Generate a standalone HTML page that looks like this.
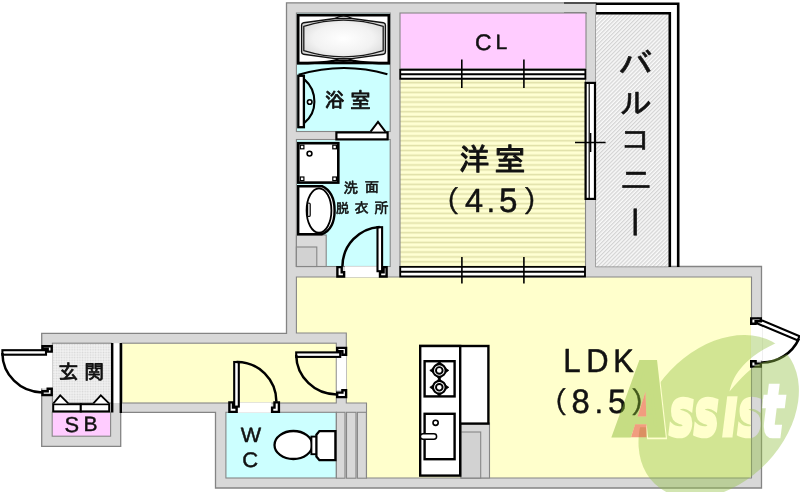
<!DOCTYPE html>
<html lang="ja">
<head>
<meta charset="utf-8">
<title>間取り図</title>
<style>
html,body{margin:0;padding:0;background:#fff;}
body{width:800px;height:492px;overflow:hidden;}
svg{display:block;}
.k{stroke:#000;fill:none;}
.w{fill:#fff;stroke:#000;}
</style>
</head>
<body>
<svg width="800" height="492" viewBox="0 0 800 492">
<defs>
  <pattern id="hatch" width="2.8" height="2.8" patternUnits="userSpaceOnUse" patternTransform="rotate(-45)">
    <rect width="2.8" height="2.8" fill="#fafafa"/>
    <rect width="2.8" height="1.3" fill="#d4d4d4"/>
  </pattern>
  <pattern id="stripe" x="0" y="80.2" width="10" height="4.84" patternUnits="userSpaceOnUse">
    <rect width="10" height="4.84" fill="#ffffd3"/>
    <rect width="10" height="1.6" y="1.7" fill="#e0e0a8"/>
  </pattern>
  <pattern id="tile" x="52.4" y="343.2" width="2.62" height="2.62" patternUnits="userSpaceOnUse">
    <rect width="2.62" height="2.62" fill="#f8f8f8"/>
    <rect x="0.5" y="0.5" width="1.7" height="1.7" fill="#d6d6d6"/>
  </pattern>
  <radialGradient id="tub" cx="50%" cy="50%" r="60%">
    <stop offset="0" stop-color="#ffffff"/>
    <stop offset="0.6" stop-color="#f2f2f2"/>
    <stop offset="1" stop-color="#d8d8d8"/>
  </radialGradient>
</defs>
<rect width="800" height="492" fill="#fff"/>

<!-- ===== walls (outer building shape) ===== -->
<path d="M286.5,2.8 H596 V266.5 H761.5 V488 H215.5 V412.3 H120.7 V446.3 H41.7 V333.4 H286.5 Z" fill="#d8d8d8" stroke="#848484" stroke-width="1.3"/>

<!-- ===== balcony ===== -->
<rect x="596" y="13" width="74" height="253.5" fill="url(#hatch)"/>
<path class="k" d="M596,3.8 H678.2 V267" stroke-width="2.6"/>
<path class="k" d="M596,13.2 H669.8 V267" stroke-width="2.6"/>
<path d="M564,13.3 H586.4 M564,3 H596" stroke="#333" stroke-width="1.4" fill="none"/>

<!-- ===== rooms ===== -->
<g stroke="#868686" stroke-width="1.1">
  <rect x="296.4" y="13" width="93.8" height="118.5" fill="#ccffff"/>
  <rect x="400" y="13" width="186" height="56" fill="#ffccff"/>
  <rect x="400" y="79" width="185.5" height="187.5" fill="url(#stripe)"/>
  <rect x="296.4" y="139.5" width="93.8" height="127" fill="#ccffff"/>
  <path d="M296.4,277 H751.5 V478 H366.5 V403 H346.3 V333 H296.4 Z" fill="#ffffcc"/>
  <rect x="122" y="343.2" width="214.3" height="59.8" fill="#ffffcc"/>
  <rect x="52.4" y="343.2" width="59" height="59.8" fill="url(#tile)"/>
  <rect x="52.2" y="412.2" width="58.4" height="24" fill="#ffccff"/>
  <rect x="225.9" y="412.3" width="110.4" height="65.7" fill="#ccffff"/>
  <rect x="336.4" y="412.3" width="8.6" height="65.9" fill="#d8d8d8"/>
  <rect x="346.5" y="412.3" width="9.5" height="65.9" fill="#d8d8d8"/>
  <rect x="357.4" y="412.3" width="9" height="65.9" fill="#d8d8d8"/>
  <rect x="296.4" y="235" width="29.8" height="31.5" fill="#dadada"/>
  <rect x="296.4" y="247" width="20.4" height="19.5" fill="#d2d2d2"/>
  <rect x="461" y="423" width="28.5" height="55" fill="#d8d8d8"/>
  <rect x="461" y="432" width="19.7" height="46" fill="#d2d2d2"/>
</g>

<!-- ===== sliding doors / window of western room ===== -->
<g>
  <rect x="399.4" y="68.8" width="186.8" height="10.8" fill="#fff"/>
  <path class="k" stroke-width="1.9" d="M399.4,69.8 H586 M399.4,74.3 H586 M399.4,78.8 H586 M400.2,68.9 V79.7 M585.4,68.9 V79.7"/>
  <path class="k" stroke-width="1.6" d="M461.8,59.5 V88 M523.9,59.5 V88"/>
  <rect x="399.4" y="266" width="186.4" height="11.4" fill="#fff"/>
  <path class="k" stroke-width="1.9" d="M399.4,266.9 H585.8 M399.4,271.7 H585.8 M399.4,276.5 H585.8 M400.2,266 V277.4 M585,266 V277.4"/>
  <path class="k" stroke-width="1.6" d="M461.9,257 V283.5 M523.9,257 V283.5"/>
  <rect class="w" x="585.6" y="82.9" width="9.4" height="116" stroke-width="2.2"/>
  <path class="k" stroke-width="1.2" d="M589.2,83 V199"/>
  <path class="k" stroke-width="1.5" d="M575,142.6 H605.6 M590.6,133 V152"/>
</g>

<!-- ===== bath fixtures ===== -->
<g>
  <rect x="298.2" y="15.2" width="90.6" height="47.8" fill="#fff" stroke="#000" stroke-width="2.6"/>
  <path d="M301.6,25 Q301.6,23 303.6,22.7 L335,18.5 H352 L383.4,22.7 Q385.4,23 385.4,25 V52 Q385.4,54 383.4,54.3 L352,58.6 H335 L303.6,54.3 Q301.6,54 301.6,52 Z" fill="url(#tub)" stroke="#111" stroke-width="1.4"/>
  <path d="M335,18.5 Q343.5,13.2 352,18.5 M335,58.6 Q343.5,63.9 352,58.6" fill="none" stroke="#111" stroke-width="1.4"/>
  <path d="M303.8,26.4 Q343.5,14 383.2,26.4 V50.6 Q343.5,63 303.8,50.6 Z" fill="none" stroke="#1a1a1a" stroke-width="1.3"/>
  <path class="k" stroke-width="2.2" d="M297,63.4 Q320,63.4 335,60.6 H352 Q367,63.4 390,63.4"/>
  <path class="k" stroke-width="2.2" d="M298.6,74.8 Q343,61.5 387.4,74.2"/>
  <rect class="w" x="298.3" y="75.8" width="5.6" height="51.4" stroke-width="2.3"/>
  <path class="k" stroke-width="2.1" d="M304.6,79.6 Q314.4,88 314.4,101.8 Q314.4,114.6 304.6,122.6"/>
  <circle class="w" cx="309.7" cy="102" r="2.3" stroke-width="1.6"/>
  <rect class="w" x="336.4" y="132.4" width="51.2" height="7" stroke-width="2.2"/>
  <path class="w" stroke-width="2" d="M370.6,131.6 L378,122 L385.4,131.6"/>
</g>

<!-- ===== washroom fixtures ===== -->
<g>
  <rect class="w" x="298.3" y="143.2" width="40" height="39.4" stroke-width="2.6"/>
  <rect class="w" x="300.3" y="145.2" width="3.6" height="3.6" stroke-width="1.2"/>
  <rect class="w" x="332.8" y="145.2" width="3.6" height="3.6" stroke-width="1.2"/>
  <rect class="w" x="300.3" y="177" width="3.6" height="3.6" stroke-width="1.2"/>
  <rect class="w" x="332.8" y="177" width="3.6" height="3.6" stroke-width="1.2"/>
  <circle class="w" cx="309.5" cy="153.6" r="2.4" stroke-width="1.6"/>
  <path class="w" stroke-width="2.4" d="M298.2,186.2 H322 Q334.6,192 334.6,210.5 Q334.6,229 322,234.2 H298.2 Z"/>
  <ellipse class="w" cx="319" cy="210.5" rx="12.4" ry="22.2" stroke-width="1.8"/>
  <rect class="w" x="307.6" y="203" width="2.6" height="13.5" rx="1.3" stroke-width="1.2"/>
</g>

<!-- ===== kitchen ===== -->
<g>
  <rect class="w" x="420.2" y="346" width="68.2" height="77.6" stroke-width="2.4"/>
  <rect class="w" x="420.2" y="346" width="40" height="129.6" stroke-width="2.4"/>
  <rect class="w" x="424.6" y="361.2" width="30" height="35.2" stroke-width="2.4"/>
  <g id="burner">
    <path d="M439.3,360.9 L441.8,364.6 H436.8 Z M439.3,379.9 L441.8,376.2 H436.8 Z M429.8,370.4 L433.5,367.9 V372.9 Z M448.8,370.4 L445.1,367.9 V372.9 Z" fill="#000" stroke="#000" stroke-width="0.8" stroke-linejoin="round"/>
    <circle cx="439.3" cy="370.4" r="6.3" fill="#fff" stroke="#000" stroke-width="2.1"/>
    <circle cx="439.3" cy="370.4" r="3.3" fill="#fff" stroke="#000" stroke-width="1.9"/>
  </g>
  <use href="#burner" y="16.9"/>
  <rect class="w" x="424.6" y="413.8" width="30" height="45.4" stroke-width="2.4"/>
  <circle class="w" cx="435.6" cy="422.8" r="2.6" stroke-width="1.6"/>
  <rect class="w" x="420.4" y="433.8" width="16.2" height="5.4" rx="2.7" stroke-width="1.5"/>
</g>

<!-- ===== WC ===== -->
<g>
  <ellipse class="w" cx="293.4" cy="445" rx="18.9" ry="14" stroke-width="2.3"/>
  <rect class="w" x="311.4" y="436.6" width="5.6" height="17.6" stroke-width="1.9"/>
  <path class="w" stroke-width="2.3" d="M319.4,431.1 H335.4 V460.2 H319.4 L316.4,456.6 V434.7 Z"/>
</g>

<!-- ===== entrance step / shoe box ===== -->
<g>
  <rect x="111.2" y="343.2" width="10.6" height="59.8" fill="#fff"/>
  <path class="k" stroke-width="2.4" d="M112.2,343 V412.6 M120.8,343 V413"/>
  <rect class="w" x="53.2" y="404.2" width="27.6" height="7.2" stroke-width="2"/>
  <rect class="w" x="80.8" y="404.2" width="28.4" height="7.2" stroke-width="2"/>
  <path class="w" stroke-width="1.8" d="M53.4,403.4 L60.2,395.4 L68.2,403.4"/>
  <path class="w" stroke-width="1.8" d="M93.4,403.4 L100.8,395.4 L109,403.4"/>
</g>

<!-- ===== doors ===== -->
<g>
  <rect x="345" y="266.3" width="34" height="11" fill="#fff"/>
  <rect class="w" x="377.5" y="227.2" width="4.6" height="44" stroke-width="2.1"/>
  <path class="w" stroke-width="2.4" d="M337.4,267.1 L341.7,267.1 L341.7,272.3 L344.1,272.3 L344.1,276.5 L337.4,276.5 Z"/>
  <path class="w" stroke-width="2.4" d="M383.6,267.1 L386.6,267.1 L386.6,276.5 L380.0,276.5 L380.0,272.3 L383.6,272.3 Z"/>
  <path class="k" stroke-width="2.5" d="M379.6,226.9 A39.5,40 0 0 0 342.4,266.4"/>
  <rect x="237.5" y="402.4" width="34" height="10.4" fill="#fff"/>
  <rect class="w" x="234.2" y="362" width="4.6" height="44.6" stroke-width="2.1"/>
  <path class="w" stroke-width="2.4" d="M229.4,402.4 L233.0,402.4 L233.0,407.6 L236.6,407.6 L236.6,411.9 L229.4,411.9 Z"/>
  <path class="w" stroke-width="2.4" d="M274.5,402.4 L278.9,402.4 L278.9,411.9 L272.1,411.9 L272.1,407.6 L274.5,407.6 Z"/>
  <path class="k" stroke-width="2.5" d="M236.6,361.9 A39.5,40 0 0 1 276.4,401.8"/>
  <rect x="336.8" y="355" width="9.6" height="35" fill="#fff"/>
  <rect class="w" x="296.2" y="352.4" width="44" height="4.5" stroke-width="2.1"/>
  <path class="w" stroke-width="2.4" d="M337.2,347.9 L346.1,347.9 L346.1,354.8 L342.4,354.8 L342.4,351.2 L337.2,351.2 Z"/>
  <path class="w" stroke-width="2.4" d="M342.4,390.2 L346.1,390.2 L346.1,397.1 L337.2,397.1 L337.2,392.6 L342.4,392.6 Z"/>
  <path class="k" stroke-width="2.5" d="M296.2,355 A40.5,40 0 0 0 336.8,394.4"/>
  <rect x="41" y="352" width="11.6" height="36.4" fill="#fff"/>
  <rect class="w" x="2.4" y="350.2" width="43.6" height="4.5" stroke-width="2.1"/>
  <path class="w" stroke-width="2.4" d="M42.5,346.2 L51.7,346.2 L51.7,351.6 L47.7,351.6 L47.7,349.0 L42.5,349.0 Z"/>
  <path class="w" stroke-width="2.4" d="M47.7,388.8 L51.7,388.8 L51.7,395.0 L42.5,395.0 L42.5,391.2 L47.7,391.2 Z"/>
  <path class="k" stroke-width="2.5" d="M2.4,353 A40,39.5 0 0 0 42,392.4"/>
  <rect x="751" y="324" width="11.2" height="36.6" fill="#fff"/>
  <rect class="w" x="-3" y="-2.3" width="44.6" height="4.6" stroke-width="2.1" transform="translate(760.2,322.2) rotate(22.6)"/>
  <path class="w" stroke-width="2.4" d="M751.2,318.4 L760.8,318.4 L760.8,321.3 L755.6,321.3 L755.6,323.7 L751.2,323.7 Z"/>
  <path class="w" stroke-width="2.4" d="M751.2,361.2 L755.6,361.2 L755.6,363.6 L760.8,363.6 L760.8,366.6 L751.2,366.6 Z"/>
  <path class="k" stroke-width="2.5" d="M799,338.6 A41,41 0 0 1 761.4,362.6"/>
</g>

<!-- ===== texts ===== -->
<g fill="#111" stroke="#111" stroke-linejoin="round" text-rendering="geometricPrecision" opacity="0.995">
<text transform="scale(1.0365,0.9647)" x="596.17 597.98 598.47 597.46 599.94" y="79.15 118.12 155.83 198.04 213.28" rotate="0 0 0 0 90" stroke-width="0.6"><tspan font-family="IPAGothic,'Noto Sans CJK JP',sans-serif" font-size="33.65">バ</tspan><tspan font-family="IPAGothic,'Noto Sans CJK JP',sans-serif" font-size="31.32">ル</tspan><tspan font-family="IPAGothic,'Noto Sans CJK JP',sans-serif" font-size="29.86">コ</tspan><tspan font-family="IPAGothic,'Noto Sans CJK JP',sans-serif" font-size="32.24">ニ</tspan><tspan font-family="IPAGothic,'Noto Sans CJK JP',sans-serif" font-size="33.67">ー</tspan></text>
<text transform="scale(0.9979,1.0021)" x="459.94 495.31" y="169.86 170.85" stroke-width="1.0"><tspan font-family="IPAGothic,'Noto Sans CJK JP',sans-serif" font-size="30.54">洋</tspan><tspan font-family="IPAGothic,'Noto Sans CJK JP',sans-serif" font-size="31.53">室</tspan></text>
<text transform="scale(0.9887,1.0114)" x="435.67 470.32 492.40 504.78 529.01" y="209.96 209.47 209.73 209.69 210.02" stroke-width="0.5"><tspan font-family="IPAGothic,'Noto Sans CJK JP',sans-serif" font-size="29.46">（</tspan><tspan font-family="'Liberation Sans',sans-serif" font-size="32.94">4</tspan><tspan font-family="'Liberation Sans',sans-serif" font-size="30.0">.</tspan><tspan font-family="'Liberation Sans',sans-serif" font-size="33.62">5</tspan><tspan font-family="IPAGothic,'Noto Sans CJK JP',sans-serif" font-size="29.64">）</tspan></text>
<text transform="scale(0.9882,1.0119)" x="328.60 354.22" y="105.43 106.84" stroke-width="0.8"><tspan font-family="IPAGothic,'Noto Sans CJK JP',sans-serif" font-size="20.01">浴</tspan><tspan font-family="IPAGothic,'Noto Sans CJK JP',sans-serif" font-size="21.17">室</tspan></text>
<text transform="scale(1.0017,0.9983)" x="342.95 364.18" y="193.33 192.63" stroke-width="0.6"><tspan font-family="IPAGothic,'Noto Sans CJK JP',sans-serif" font-size="14.68">洗</tspan><tspan font-family="IPAGothic,'Noto Sans CJK JP',sans-serif" font-size="14.2">面</tspan></text>
<text transform="scale(0.9856,1.0146)" x="341.02 359.59 379.72" y="209.97 210.40 209.94" stroke-width="0.6"><tspan font-family="IPAGothic,'Noto Sans CJK JP',sans-serif" font-size="13.28">脱</tspan><tspan font-family="IPAGothic,'Noto Sans CJK JP',sans-serif" font-size="14.37">衣</tspan><tspan font-family="IPAGothic,'Noto Sans CJK JP',sans-serif" font-size="14.52">所</tspan></text>
<text transform="scale(1.0055,0.9946)" x="57.94 83.77" y="381.35 381.14" stroke-width="0.8"><tspan font-family="IPAGothic,'Noto Sans CJK JP',sans-serif" font-size="20.17">玄</tspan><tspan font-family="IPAGothic,'Noto Sans CJK JP',sans-serif" font-size="19.74">関</tspan></text>
<text transform="scale(1.0111,0.9890)" x="469.73 490.05" y="50.25 49.64" stroke-width="0.45"><tspan font-family="'Liberation Sans',sans-serif" font-size="22.68">C</tspan><tspan font-family="'Liberation Sans',sans-serif" font-size="20.94">L</tspan></text>
<text transform="scale(1.0037,0.9963)" x="64.19 83.21" y="433.26 433.02" stroke-width="0.45"><tspan font-family="'Liberation Sans',sans-serif" font-size="21.77">S</tspan><tspan font-family="'Liberation Sans',sans-serif" font-size="20.91">B</tspan></text>
<text transform="scale(1.0230,0.9775)" x="235.32 236.74" y="452.12 477.69" stroke-width="0.45"><tspan font-family="'Liberation Sans',sans-serif" font-size="21.09">W</tspan><tspan font-family="'Liberation Sans',sans-serif" font-size="21.52">C</tspan></text>
<text transform="scale(0.9692,1.0317)" x="581.27 604.91 632.84" y="360.78 360.62 360.57" stroke-width="0.5"><tspan font-family="'Liberation Sans',sans-serif" font-size="32.35">L</tspan><tspan font-family="'Liberation Sans',sans-serif" font-size="31.88">D</tspan><tspan font-family="'Liberation Sans',sans-serif" font-size="31.73">K</tspan></text>
<text transform="scale(0.9830,1.0173)" x="547.98 581.44 605.14 618.53 641.42" y="406.40 406.33 406.42 406.26 406.26" stroke-width="0.5"><tspan font-family="IPAGothic,'Noto Sans CJK JP',sans-serif" font-size="29.46">（</tspan><tspan font-family="'Liberation Sans',sans-serif" font-size="33.32">8</tspan><tspan font-family="'Liberation Sans',sans-serif" font-size="30.0">.</tspan><tspan font-family="'Liberation Sans',sans-serif" font-size="33.11">5</tspan><tspan font-family="IPAGothic,'Noto Sans CJK JP',sans-serif" font-size="29.09">）</tspan></text>
</g>

<!-- ===== watermark ===== -->
<defs>
  <text id="wmword" transform="scale(0.8,1.25)" x="776.56 836.81 867.94 903.19 922.50 952.19" y="345.60 348.08 348.08 347.96 348.08 348.52" font-family="'DejaVu Sans',sans-serif" font-weight="bold" font-style="oblique" stroke-linejoin="miter" stroke-width="3.6"><tspan font-size="72.86" style="stroke-width:var(--aw,8.9px)">A</tspan><tspan font-size="50.55">ss</tspan><tspan font-size="53.2">i</tspan><tspan font-size="50.55">s</tspan><tspan font-size="56.37">t</tspan></text>
  <clipPath id="clipA"><rect x="600" y="340" width="66.3" height="110"/></clipPath>
  <path id="wmred" d="M645.5,391.5 L646.3,416.5 L637.6,416.5 Z M635.1,424.2 L646.5,424.2 L646.5,437.2 L631,437.2 Z"/>
  <mask id="redholes" maskUnits="userSpaceOnUse" x="600" y="340" width="80" height="110">
    <rect x="600" y="340" width="80" height="110" fill="#fff"/>
    <use href="#wmred" fill="#000"/>
  </mask>
  <path id="swoosh" d="M729.5,391.5 C732.5,379 740,360 775.6,343.3 L792,328 L812,338 C798,352 776,359 762,362.5 C752,366 741,378 729.5,391.5 Z"/>
  <mask id="wmmask" maskUnits="userSpaceOnUse" x="600" y="320" width="200" height="172">
    <rect x="600" y="320" width="200" height="172" fill="#fff"/>
    <use href="#wmword" fill="#000" stroke="#000" style="--aw:11.7px"/>
    <rect x="726" y="376" width="21" height="20.3" fill="#fff"/>
    <use href="#swoosh" fill="#000"/>
  </mask>
</defs>
<g id="wm">
  <g mask="url(#wmmask)"><ellipse cx="718.7" cy="416.5" rx="92.8" ry="66.8" transform="rotate(-46.4 718.7 416.5)" fill="rgb(148,193,70)" fill-opacity="0.42"/></g>
  <g opacity="0.44" mask="url(#redholes)"><g clip-path="url(#clipA)"><use href="#wmword" fill="rgb(125,178,40)" stroke="rgb(125,178,40)" style="--aw:8.9px"/></g></g>
  <use href="#wmred" fill="rgb(228,60,50)" fill-opacity="0.5"/>
</g>
</svg>
</body>
</html>
